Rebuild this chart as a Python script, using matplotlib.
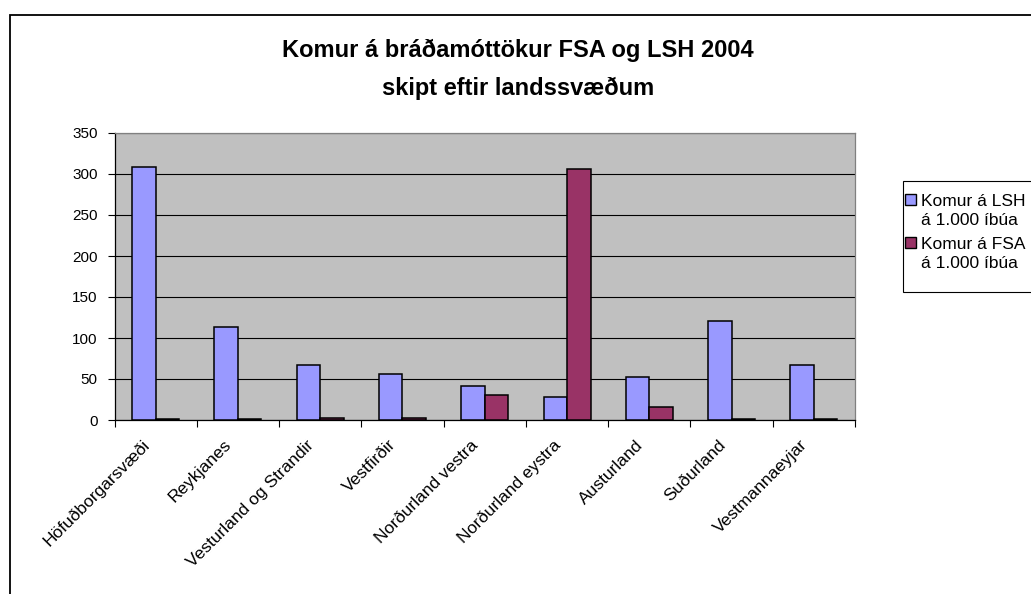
import matplotlib
matplotlib.use("Agg")
import matplotlib.pyplot as plt
import numpy as np
from matplotlib.patches import Rectangle

categories = ["Höfuðborgarsvæði", "Reykjanes", "Vesturland og Strandir", "Vestfirðir",
              "Norðurland vestra", "Norðurland eystra", "Austurland", "Suðurland",
              "Vestmannaeyjar"]
lsh = [308, 113, 67, 56, 41, 28, 52, 121, 67]
fsa = [1, 1, 3, 3, 31, 306, 16, 1, 1]
series_lines = [["Komur á LSH", "á 1.000 íbúa"], ["Komur á FSA", "á 1.000 íbúa"]]
colors = ['#9999FF', '#993366']
title = "Komur á bráðamóttökur FSA og LSH 2004\nskipt eftir landssvæðum"
yticks = [0, 50, 100, 150, 200, 250, 300, 350]

plt.rcParams['font.family'] = ['Liberation Sans', 'DejaVu Sans']

W, H = 1031, 594
fig = plt.figure(figsize=(W/100, H/100), dpi=100)
fig.patch.set_facecolor('white')

def fx(px):
    return px / W

def fy(py):
    return 1 - py / H

# outer chart frame (only left/top visible)
fig.patches.append(Rectangle((fx(10), -0.2), 1.2, fy(15) + 0.2, transform=fig.transFigure,
                             fill=False, edgecolor='black', linewidth=1.3, zorder=0))

ax = fig.add_axes([fx(114.5), fy(420), fx(855 - 114.5), (420 - 133) / H])
ax.set_facecolor('#C0C0C0')

x = np.arange(len(categories))
w = 0.2857
b1 = ax.bar(x - w/2, lsh, w, color=colors[0], edgecolor='black', linewidth=1.1, zorder=3)
b2 = ax.bar(x + w/2, fsa, w, color=colors[1], edgecolor='black', linewidth=1.1, zorder=3)

ax.set_xlim(-0.5, len(categories) - 0.5)
ax.set_ylim(0, 350)
ax.set_yticks(yticks)
ax.set_yticklabels([str(v) for v in yticks], fontsize=11)
ax.yaxis.grid(True, color='black', linewidth=0.8, zorder=1)
ax.set_axisbelow(True)

ax.set_xticks(np.arange(len(categories) + 1) - 0.5)
ax.set_xticklabels([])
ax.tick_params(axis='x', direction='out', length=5, width=0.8, color='black')
ax.tick_params(axis='y', direction='out', length=5, width=0.8, color='black', pad=7)
for xi, lab in zip(x, categories):
    ax.text(xi - 0.17, -21, lab, rotation=45, ha='right', va='top',
            rotation_mode='anchor', fontsize=12.5, transform=ax.transData, clip_on=False)

ax.spines['left'].set_color('black')
ax.spines['bottom'].set_color('black')
ax.spines['top'].set_color('#808080')
ax.spines['right'].set_color('#808080')
for s in ax.spines.values():
    s.set_linewidth(0.9)

fig.text(fx(518), fy(39), title, ha='center', va='top', fontsize=17, fontweight='bold',
         linespacing=1.8)

# legend drawn as box, swatches and text lines
fig.patches.append(Rectangle((fx(903), fy(292)), fx(1040 - 903), (292 - 181) / H,
                             transform=fig.transFigure, facecolor='white',
                             edgecolor='black', linewidth=0.8, zorder=2))
sw_tops = [194, 237]
baselines = [[206, 225], [249, 268]]
for c, top, bls, lines in zip(colors, sw_tops, baselines, series_lines):
    fig.patches.append(Rectangle((fx(905), fy(top + 11)), fx(11), 11 / H,
                                 transform=fig.transFigure, facecolor=c,
                                 edgecolor='black', linewidth=1.0, zorder=3))
    for bl, line in zip(bls, lines):
        fig.text(fx(921), fy(bl), line, ha='left', va='baseline', fontsize=12.5, zorder=4)

fig.savefig('out.png', dpi=100)
